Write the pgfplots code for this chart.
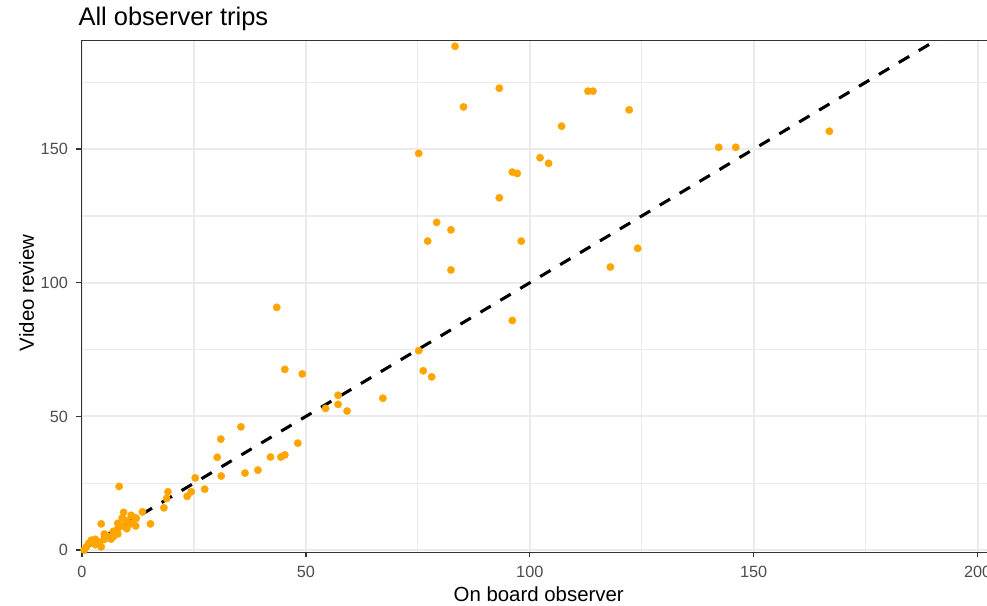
\documentclass[border=0pt]{standalone}
\usepackage{pgfplots}
\pgfplotsset{compat=1.18}
\usepackage{fontspec}
\setmainfont{Liberation Sans}
\definecolor{ggorange}{HTML}{FFA500}
\definecolor{gridc}{HTML}{EBEBEB}
\definecolor{grey20}{HTML}{333333}
\definecolor{grey30}{HTML}{4D4D4D}
\pgfplotstableread{
x y
0.5 0
1 1.2
2.1 3.7
1.5 2.5
3 2
3 4
4 3
4.3 1.2
4.3 9.8
5 4
5 6
6.5 4.1
6 5
7 7
7 5
8 6
8 8
8 10
9 9
9 12
9.3 14.1
10 8
10 11
10.6 9.7
11 10
11 13
12 9
12.1 11.8
12 12
13.5 14.3
15.3 9.8
8.3 23.8
18.3 15.8
18.9 19.3
19.2 21.8
23.5 20.1
24.4 21.8
25.3 27.0
27.4 22.8
30.2 34.7
31.1 27.7
31.0 41.5
35.5 46.1
36.4 28.8
39.3 29.9
42.1 34.8
44.4 34.8
45.3 35.6
43.5 90.8
45.3 67.6
48.2 40.0
49.2 65.9
54.4 53.0
57.2 54.5
57.2 57.9
59.2 52.0
67.2 56.8
75.2 74.6
76.2 67.1
78.1 64.8
75.2 148.4
77.2 115.6
79.2 122.6
82.4 119.8
82.4 104.8
83.3 188.5
85.2 165.8
93.2 172.8
93.2 131.8
96.1 141.4
97.2 140.9
96.1 85.9
98.1 115.6
102.3 146.8
104.2 144.7
107.1 158.6
113.0 171.7
114.1 171.7
118.0 105.9
122.2 164.7
124.1 112.9
142.2 150.7
146.0 150.7
166.9 156.7
}\trips
\begin{document}
\begin{tikzpicture}
\begin{axis}[
  at={(0,0)}, anchor=south west,
  scale only axis, width=685.8pt, height=383.6pt,
  xmin=-0.11, xmax=204.1, ymin=-0.8, ymax=190.6,
  xtick={0,50,100,150,200}, ytick={0,50,100,150},
  minor xtick={25,75,125,175}, minor ytick={25,75,125,175},
  grid=both,
  major grid style={gridc, line width=1.5pt},
  minor grid style={gridc, line width=1pt},
  axis line style={grey20, line width=1pt},
  tick align=outside, tick pos=left,
  major tick length=3.8pt, minor tick length=0pt,
  every tick/.style={grey20, line width=1pt},
  /pgf/number format/assume math mode=true,
  ticklabel style={font=\fontsize{12.2}{14}\selectfont, text=grey30, inner sep=0pt},
  xticklabel style={anchor=north, yshift=-6.2pt},
  yticklabel style={anchor=east, xshift=-6.2pt},
  title={All observer trips},
  title style={at={(0,1)}, anchor=base west, xshift=-2.4pt, yshift=5.4pt, inner sep=0pt, font=\fontsize{19.1}{23}\selectfont},
  xlabel={On board observer},
  xlabel style={at={(0.5,0)}, anchor=base, yshift=-36.75pt, inner sep=0pt, font=\fontsize{15.3}{18}\selectfont},
  ylabel={Video review},
  ylabel style={at={(axis description cs:-0.052,0.507)}, anchor=base, inner sep=0pt, font=\fontsize{15.3}{18}\selectfont},
]
\addplot[only marks, color=ggorange, mark=*, mark size=2.8pt, mark options={draw=ggorange, fill=ggorange, line width=0.2pt}] table[x=x, y=y] {\trips};
\addplot[black, line width=2.3pt, dash pattern=on 9pt off 8.4pt] coordinates {(0,0) (204,204)};
\end{axis}
\pgfresetboundingbox
\path[use as bounding box] (-61.1pt,-39.75pt) rectangle (679.1pt,414.1pt);
\end{tikzpicture}
\end{document}
